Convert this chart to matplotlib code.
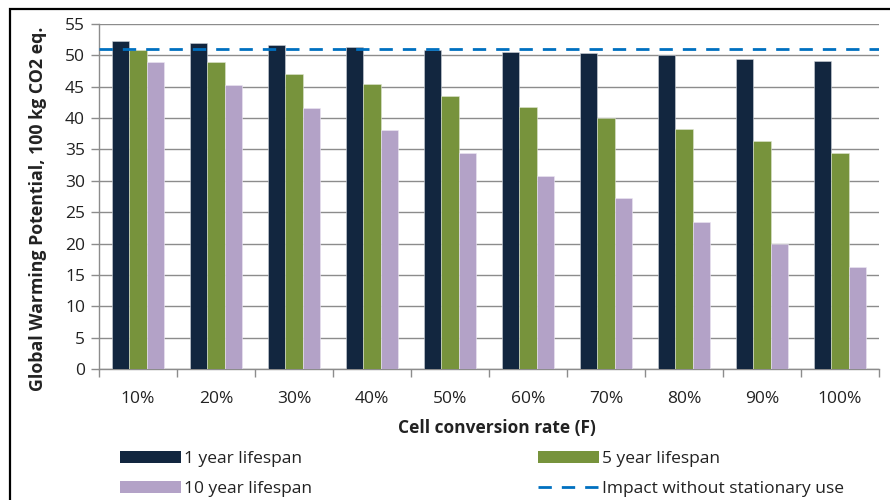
import matplotlib
matplotlib.use("Agg")
import matplotlib.pyplot as plt
from matplotlib.patches import Patch, Rectangle
from matplotlib.lines import Line2D
import numpy as np

plt.rcParams['font.family'] = ['Open Sans', 'DejaVu Sans']

categories = ["10%", "20%", "30%", "40%", "50%", "60%", "70%", "80%", "90%", "100%"]
life_1yr = [52.3, 51.9, 51.6, 51.3, 50.9, 50.6, 50.3, 50.0, 49.4, 49.1]
life_5yr = [50.8, 49.0, 47.1, 45.5, 43.6, 41.8, 40.0, 38.2, 36.3, 34.5]
life_10yr = [49.0, 45.3, 41.6, 38.1, 34.5, 30.8, 27.2, 23.5, 20.0, 16.2]
baseline = 51.0

c_dark = "#12263F"
c_green = "#77933C"
c_purple = "#B3A2C7"
c_line = "#0070C0"
c_grid = "#8C8C8C"
c_text = "#222222"

W, H = 890, 500
fig = plt.figure(figsize=(W / 100, H / 100), dpi=100)
ax = fig.add_axes([99 / W, 1 - 369 / H, (879 - 99) / W, (369 - 24) / H])

x = np.arange(len(categories))
bw = 0.22
ax.bar(x - bw, life_1yr, bw, color=c_dark, edgecolor="#cfd4da", linewidth=0.4, zorder=3)
ax.bar(x, life_5yr, bw, color=c_green, edgecolor="#dfe6d0", linewidth=0.4, zorder=3)
ax.bar(x + bw, life_10yr, bw, color=c_purple, edgecolor="#ece6f3", linewidth=0.4, zorder=3)
ax.axhline(baseline, color=c_line, lw=2.0, dashes=(4.8, 3.6), zorder=4)

ax.set_xlim(-0.5, len(categories) - 0.5)
ax.set_ylim(0, 55)
ax.set_yticks(np.arange(0, 56, 5))
ax.yaxis.grid(True, color=c_grid, lw=1.0, zorder=0)
ax.set_axisbelow(True)

ax.set_xticks(x)
ax.set_xticklabels(categories, fontsize=12.5, color=c_text)
ax.set_xticks(np.arange(-0.5, len(categories), 1), minor=True)
ax.tick_params(axis="x", which="major", length=0, pad=16)
ax.tick_params(axis="x", which="minor", length=6, color=c_grid, width=1)
ax.tick_params(axis="y", length=6, color=c_grid, width=1, labelsize=12.5, labelcolor=c_text, pad=4)

for s in ("top", "right"):
    ax.spines[s].set_visible(False)
for s in ("left", "bottom"):
    ax.spines[s].set_color(c_grid)
    ax.spines[s].set_linewidth(1.0)

ax.set_xlabel("Cell conversion rate (F)", fontsize=12.5, fontweight="bold", color=c_text)
ax.xaxis.set_label_coords(0.51, -0.145)
ax.set_ylabel("Global Warming Potential, 100 kg CO2 eq.", fontsize=12.8, fontweight="bold",
              color=c_text)
ax.yaxis.set_label_coords(-52 / 780, 0.465)

# legend: two columns placed side by side
h1 = Patch(facecolor=c_dark, edgecolor="none", label="1 year lifespan")
h10 = Patch(facecolor=c_purple, edgecolor="none", label="10 year lifespan")
h5 = Patch(facecolor=c_green, edgecolor="none", label="5 year lifespan")
hl = Line2D([], [], color=c_line, lw=2.0, dashes=(4.8, 3.6), label="Impact without stationary use")

leg_kw = dict(frameon=False, fontsize=12.5, handlelength=3.5, handleheight=0.7,
              handletextpad=0.2, labelspacing=0.8, borderpad=0, borderaxespad=0,
              loc="upper left", labelcolor=c_text)
fig.legend(handles=[h1, h10], bbox_to_anchor=(120 / W, 1 - 451 / H), **leg_kw)
fig.legend(handles=[h5, hl], bbox_to_anchor=(538 / W, 1 - 451 / H), **leg_kw)

# chart frame
fig.add_artist(Rectangle((10 / W, -0.05), 1.0, 1 - 9 / H + 0.05, transform=fig.transFigure,
                         fill=False, edgecolor="black", lw=1.6))

fig.savefig("out.png", dpi=100)
